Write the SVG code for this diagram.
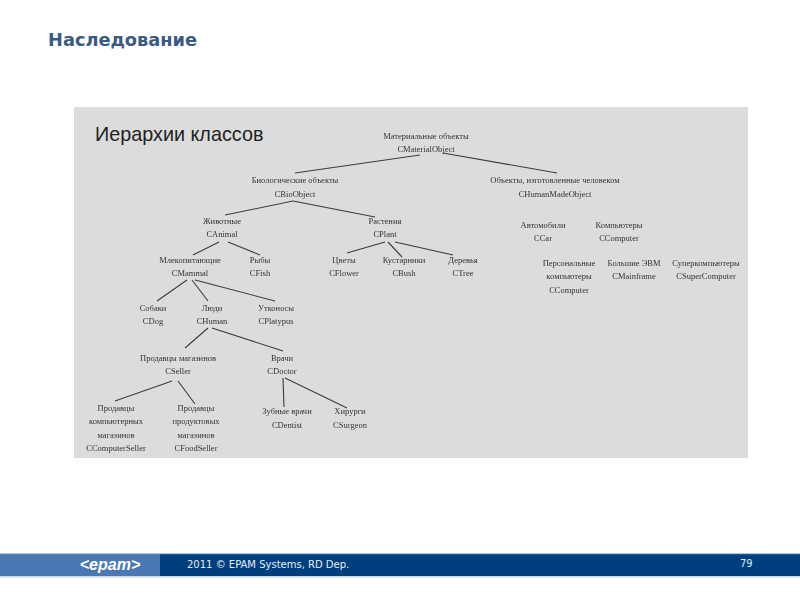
<svg xmlns="http://www.w3.org/2000/svg" width="800" height="600" viewBox="0 0 800 600">
<style>
.n{font-family:"Liberation Serif",serif;font-size:8.5px;fill:#333;text-anchor:middle}
.c line{stroke:#3c3c3c;stroke-width:1.1;fill:none}
</style>
<defs><filter id="b" x="-5%" y="-5%" width="110%" height="110%"><feGaussianBlur stdDeviation="0.45"/></filter></defs>
<rect width="800" height="600" fill="#fff"/>
<text x="48" y="46" font-family="'DejaVu Sans',sans-serif" font-weight="700" font-size="17.8" fill="#3a5a85">Наследование</text>
<rect id="panel" x="74" y="107" width="674" height="351" fill="#dcdcdc"/>
<text x="95" y="141" font-family="'Liberation Sans',sans-serif" font-size="19.8" fill="#222">Иерархии классов</text>
<g filter="url(#b)">
<g id="connectors" class="c">
<line x1="420" y1="155" x2="295" y2="173"/><line x1="443" y1="153" x2="557" y2="173"/>
<line x1="293" y1="201" x2="225" y2="215"/><line x1="293" y1="201" x2="375" y2="217"/>
<line x1="219" y1="242" x2="193" y2="255"/><line x1="228" y1="242" x2="260" y2="255"/>
<line x1="385" y1="242" x2="347" y2="253"/><line x1="388" y1="242" x2="402" y2="257"/><line x1="395" y1="242" x2="453" y2="255"/>
<line x1="187" y1="280" x2="157" y2="301"/><line x1="192" y1="280" x2="208" y2="301"/><line x1="195" y1="280" x2="275" y2="301"/>
<line x1="208" y1="328" x2="185" y2="348"/><line x1="212" y1="328" x2="283" y2="351"/>
<line x1="172" y1="381" x2="115" y2="401"/><line x1="178" y1="381" x2="195" y2="404"/>
<line x1="283" y1="378" x2="284" y2="407"/><line x1="285" y1="378" x2="347" y2="408"/>
</g>
<g id="material" class="n"><text x="426" y="139">Материальные объекты</text><text x="426" y="152">CMaterialObject</text></g>
<g id="bio" class="n"><text x="295" y="183">Биологические объекты</text><text x="295" y="197">CBioObject</text></g>
<g id="human-made" class="n"><text x="555" y="183">Объекты, изготовленные человеком</text><text x="555" y="197">CHumanMadeObject</text></g>
<g id="animal" class="n"><text x="222" y="224">Животные</text><text x="222" y="237">CAnimal</text></g>
<g id="plant" class="n"><text x="385" y="224">Растения</text><text x="385" y="237">CPlant</text></g>
<g id="car" class="n"><text x="543" y="228">Автомобили</text><text x="543" y="241">CCar</text></g>
<g id="computer" class="n"><text x="619" y="228">Компьютеры</text><text x="619" y="241">CComputer</text></g>
<g id="mammal" class="n"><text x="190" y="263">Млекопитающие</text><text x="190" y="276">CMammal</text></g>
<g id="fish" class="n"><text x="260" y="263">Рыбы</text><text x="260" y="276">CFish</text></g>
<g id="flower" class="n"><text x="344" y="263">Цветы</text><text x="344" y="276">CFlower</text></g>
<g id="bush" class="n"><text x="404" y="263">Кустарники</text><text x="404" y="276">CBush</text></g>
<g id="tree" class="n"><text x="463" y="263">Деревья</text><text x="463" y="276">CTree</text></g>
<g id="pc" class="n"><text x="569" y="266">Персональные</text><text x="569" y="279">компьютеры</text><text x="569" y="293">CComputer</text></g>
<g id="mainframe" class="n"><text x="634" y="266">Большие ЭВМ</text><text x="634" y="279">CMainframe</text></g>
<g id="super" class="n"><text x="706" y="266">Суперкомпьютеры</text><text x="706" y="279">CSuperComputer</text></g>
<g id="dog" class="n"><text x="153" y="311">Собаки</text><text x="153" y="324">CDog</text></g>
<g id="humanp" class="n"><text x="212" y="311">Люди</text><text x="212" y="324">CHuman</text></g>
<g id="platypus" class="n"><text x="276" y="311">Утконосы</text><text x="276" y="324">CPlatypus</text></g>
<g id="seller" class="n"><text x="178" y="361">Продавцы магазинов</text><text x="178" y="374">CSeller</text></g>
<g id="doctor" class="n"><text x="282" y="361">Врачи</text><text x="282" y="374">CDoctor</text></g>
<g id="computer-seller" class="n"><text x="116" y="411">Продавцы</text><text x="116" y="424">компьютерных</text><text x="116" y="438">магазинов</text><text x="116" y="451">CComputerSeller</text></g>
<g id="food-seller" class="n"><text x="196" y="411">Продавцы</text><text x="196" y="424">продуктовых</text><text x="196" y="438">магазинов</text><text x="196" y="451">CFoodSeller</text></g>
<g id="dentist" class="n"><text x="287" y="414">Зубные врачи</text><text x="287" y="428">CDentist</text></g>
<g id="surgeon" class="n"><text x="350" y="414">Хирурги</text><text x="350" y="428">CSurgeon</text></g>
</g>
<g id="footer">
<rect x="0" y="553" width="800" height="24" fill="#003f7d"/>
<rect x="0" y="553" width="160" height="24" fill="#4a78b4"/>
<rect x="0" y="553" width="800" height="1.2" fill="#a6c4de"/>
<rect x="0" y="576" width="800" height="1.5" fill="#c4daee"/>
<text x="110" y="570" text-anchor="middle" font-family="'Liberation Sans',sans-serif" font-weight="700" font-style="italic" font-size="16" fill="#fff">&lt;epam&gt;</text>
<text x="187" y="568" font-family="'DejaVu Sans',sans-serif" font-size="10" fill="#e8eef5">2011 © EPAM Systems, RD Dep.</text>
<text x="740" y="567" font-family="'DejaVu Sans',sans-serif" font-size="10" fill="#dde8f2">79</text>
</g>
</svg>
